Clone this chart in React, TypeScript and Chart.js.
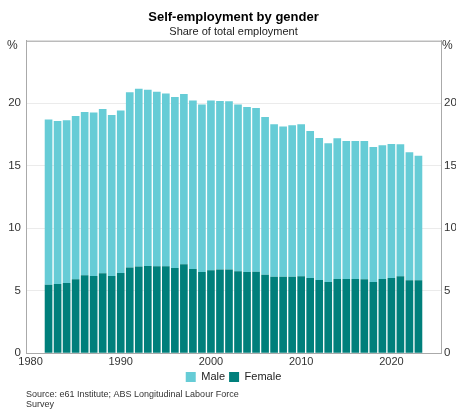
import React, { useEffect, useRef } from "react";
import { Chart, registerables } from "chart.js";

Chart.register(...registerables);

const years = [
  1982, 1983, 1984, 1985, 1986, 1987, 1988, 1989, 1990, 1991, 1992, 1993, 1994, 1995,
  1996, 1997, 1998, 1999, 2000, 2001, 2002, 2003, 2004, 2005, 2006, 2007, 2008, 2009,
  2010, 2011, 2012, 2013, 2014, 2015, 2016, 2017, 2018, 2019, 2020, 2021, 2022, 2023,
];

const female = [
  5.48, 5.54, 5.62, 5.91, 6.23, 6.18, 6.39, 6.18, 6.42, 6.85, 6.93, 6.98, 6.95, 6.95,
  6.82, 7.11, 6.74, 6.5, 6.63, 6.69, 6.69, 6.55, 6.5, 6.52, 6.28, 6.12, 6.12, 6.12,
  6.15, 6.02, 5.86, 5.7, 5.94, 5.94, 5.94, 5.91, 5.7, 5.94, 6.02, 6.15, 5.83, 5.83,
];

const male = [
  13.22, 13.05, 13.02, 13.08, 13.08, 13.08, 13.16, 12.89, 13.0, 14.04, 14.23, 14.1, 13.97, 13.84,
  13.69, 13.64, 13.48, 13.4, 13.59, 13.5, 13.48, 13.35, 13.21, 13.11, 12.63, 12.2, 12.02, 12.12,
  12.17, 11.77, 11.36, 11.1, 11.26, 11.04, 11.04, 11.07, 10.8, 10.7, 10.72, 10.57, 10.25, 9.98,
];

const xTicks = [1980, 1990, 2000, 2010, 2020];
const yTicks = [0, 5, 10, 15, 20, 25];

const titleText = "Self-employment by gender";
const subtitleText = "Share of total employment";
const unitLabel = "%";
const sourceLines = ["Source: e61 Institute; ABS Longitudinal Labour Force", "Survey"];

const MALE_COLOR = "#66CCD6";
const FEMALE_COLOR = "#007F7B";
const FONT = 'Arial, "Liberation Sans", Helvetica, sans-serif';

export default function App() {
  const ref = useRef<HTMLCanvasElement | null>(null);

  useEffect(() => {
    document.body.style.margin = "0";
    const canvas = ref.current;
    if (!canvas) return;
    Chart.defaults.font.family = FONT;

    const extras = {
      id: "extras",
      afterDraw(chart: any) {
        const { ctx, chartArea } = chart;
        ctx.save();
        ctx.strokeStyle = "#aaaaaa";
        ctx.lineWidth = 1;
        ctx.beginPath();
        ctx.moveTo(chartArea.left, chartArea.top + 0.5);
        ctx.lineTo(chartArea.right, chartArea.top + 0.5);
        ctx.stroke();
        ctx.fillStyle = "#333333";
        ctx.font = `12px ${FONT}`;
        ctx.textBaseline = "middle";
        ctx.textAlign = "left";
        ctx.fillText(unitLabel, 7, 46);
        ctx.fillText(unitLabel, 442, 46);
        ctx.font = `9px ${FONT}`;
        ctx.fillStyle = "#333333";
        sourceLines.forEach((line, i) => {
          ctx.fillText(line, 26, 395 + i * 9.5);
        });
        ctx.restore();
      },
    };

    const yTickCb = (v: any) => (v === 25 ? "" : String(v));

    const chart = new Chart(canvas, {
      type: "bar",
      data: {
        datasets: [
          {
            label: "Female",
            data: years.map((y, i) => ({ x: y, y: female[i] })),
            backgroundColor: FEMALE_COLOR,
            borderWidth: 0,
            categoryPercentage: 0.85,
            barPercentage: 1,
          },
          {
            label: "Male",
            data: years.map((y, i) => ({ x: y, y: male[i] })),
            backgroundColor: MALE_COLOR,
            borderWidth: 0,
            categoryPercentage: 0.85,
            barPercentage: 1,
          },
        ],
      },
      options: {
        responsive: false,
        animation: false,
        layout: { padding: { top: 0, left: 0, right: 0, bottom: 19.4 } },
        scales: {
          x: {
            type: "linear",
            stacked: true,
            min: 1979.5,
            max: 2025.5,
            offset: false,
            grid: { display: false, drawTicks: false },
            border: { display: true, color: "#aaaaaa", width: 1 },
            afterBuildTicks: (s: any) => {
              s.ticks = xTicks.map((v) => ({ value: v }));
            },
            afterFit: (s: any) => {
              s.height = 14.4;
            },
            ticks: {
              autoSkip: false,
              maxRotation: 0,
              padding: 2,
              color: "#333333",
              font: { size: 11 },
              callback: (v: any) => String(v),
            },
          },
          y: {
            position: "left",
            stacked: true,
            min: 0,
            max: 25,
            afterBuildTicks: (s: any) => {
              s.ticks = yTicks.map((v) => ({ value: v }));
            },
            afterFit: (s: any) => {
              s.width = 26;
            },
            grid: { display: true, color: "#ebebeb", lineWidth: 1, drawTicks: false },
            border: { display: true, color: "#aaaaaa", width: 1 },
            ticks: { padding: 5, color: "#333333", font: { size: 11.5 }, callback: yTickCb },
          },
          y2: {
            position: "right",
            min: 0,
            max: 25,
            afterBuildTicks: (s: any) => {
              s.ticks = yTicks.map((v) => ({ value: v }));
            },
            afterFit: (s: any) => {
              s.width = 15;
            },
            grid: { display: false, drawTicks: false },
            border: { display: true, color: "#aaaaaa", width: 1 },
            ticks: { padding: 3, color: "#333333", font: { size: 11.5 }, callback: yTickCb },
          },
        },
        plugins: {
          title: {
            display: true,
            text: titleText,
            fullSize: false,
            color: "#000000",
            font: { size: 13, weight: "bold" },
            padding: { top: 10, bottom: 0 },
          },
          subtitle: {
            display: true,
            text: subtitleText,
            fullSize: false,
            color: "#222222",
            font: { size: 11 },
            padding: { top: 0, bottom: 2 },
          },
          legend: {
            position: "bottom",
            fullSize: false,
            reverse: true,
            labels: {
              boxWidth: 10,
              boxHeight: 10,
              padding: 4,
              color: "#222222",
              font: { size: 11 },
            },
          },
          tooltip: { enabled: false },
        },
      },
      plugins: [extras],
    } as any);

    return () => chart.destroy();
  }, []);

  return (
    <div style={{ width: 456, height: 412 }}>
      <canvas ref={ref} width={456} height={412} />
    </div>
  );
}
